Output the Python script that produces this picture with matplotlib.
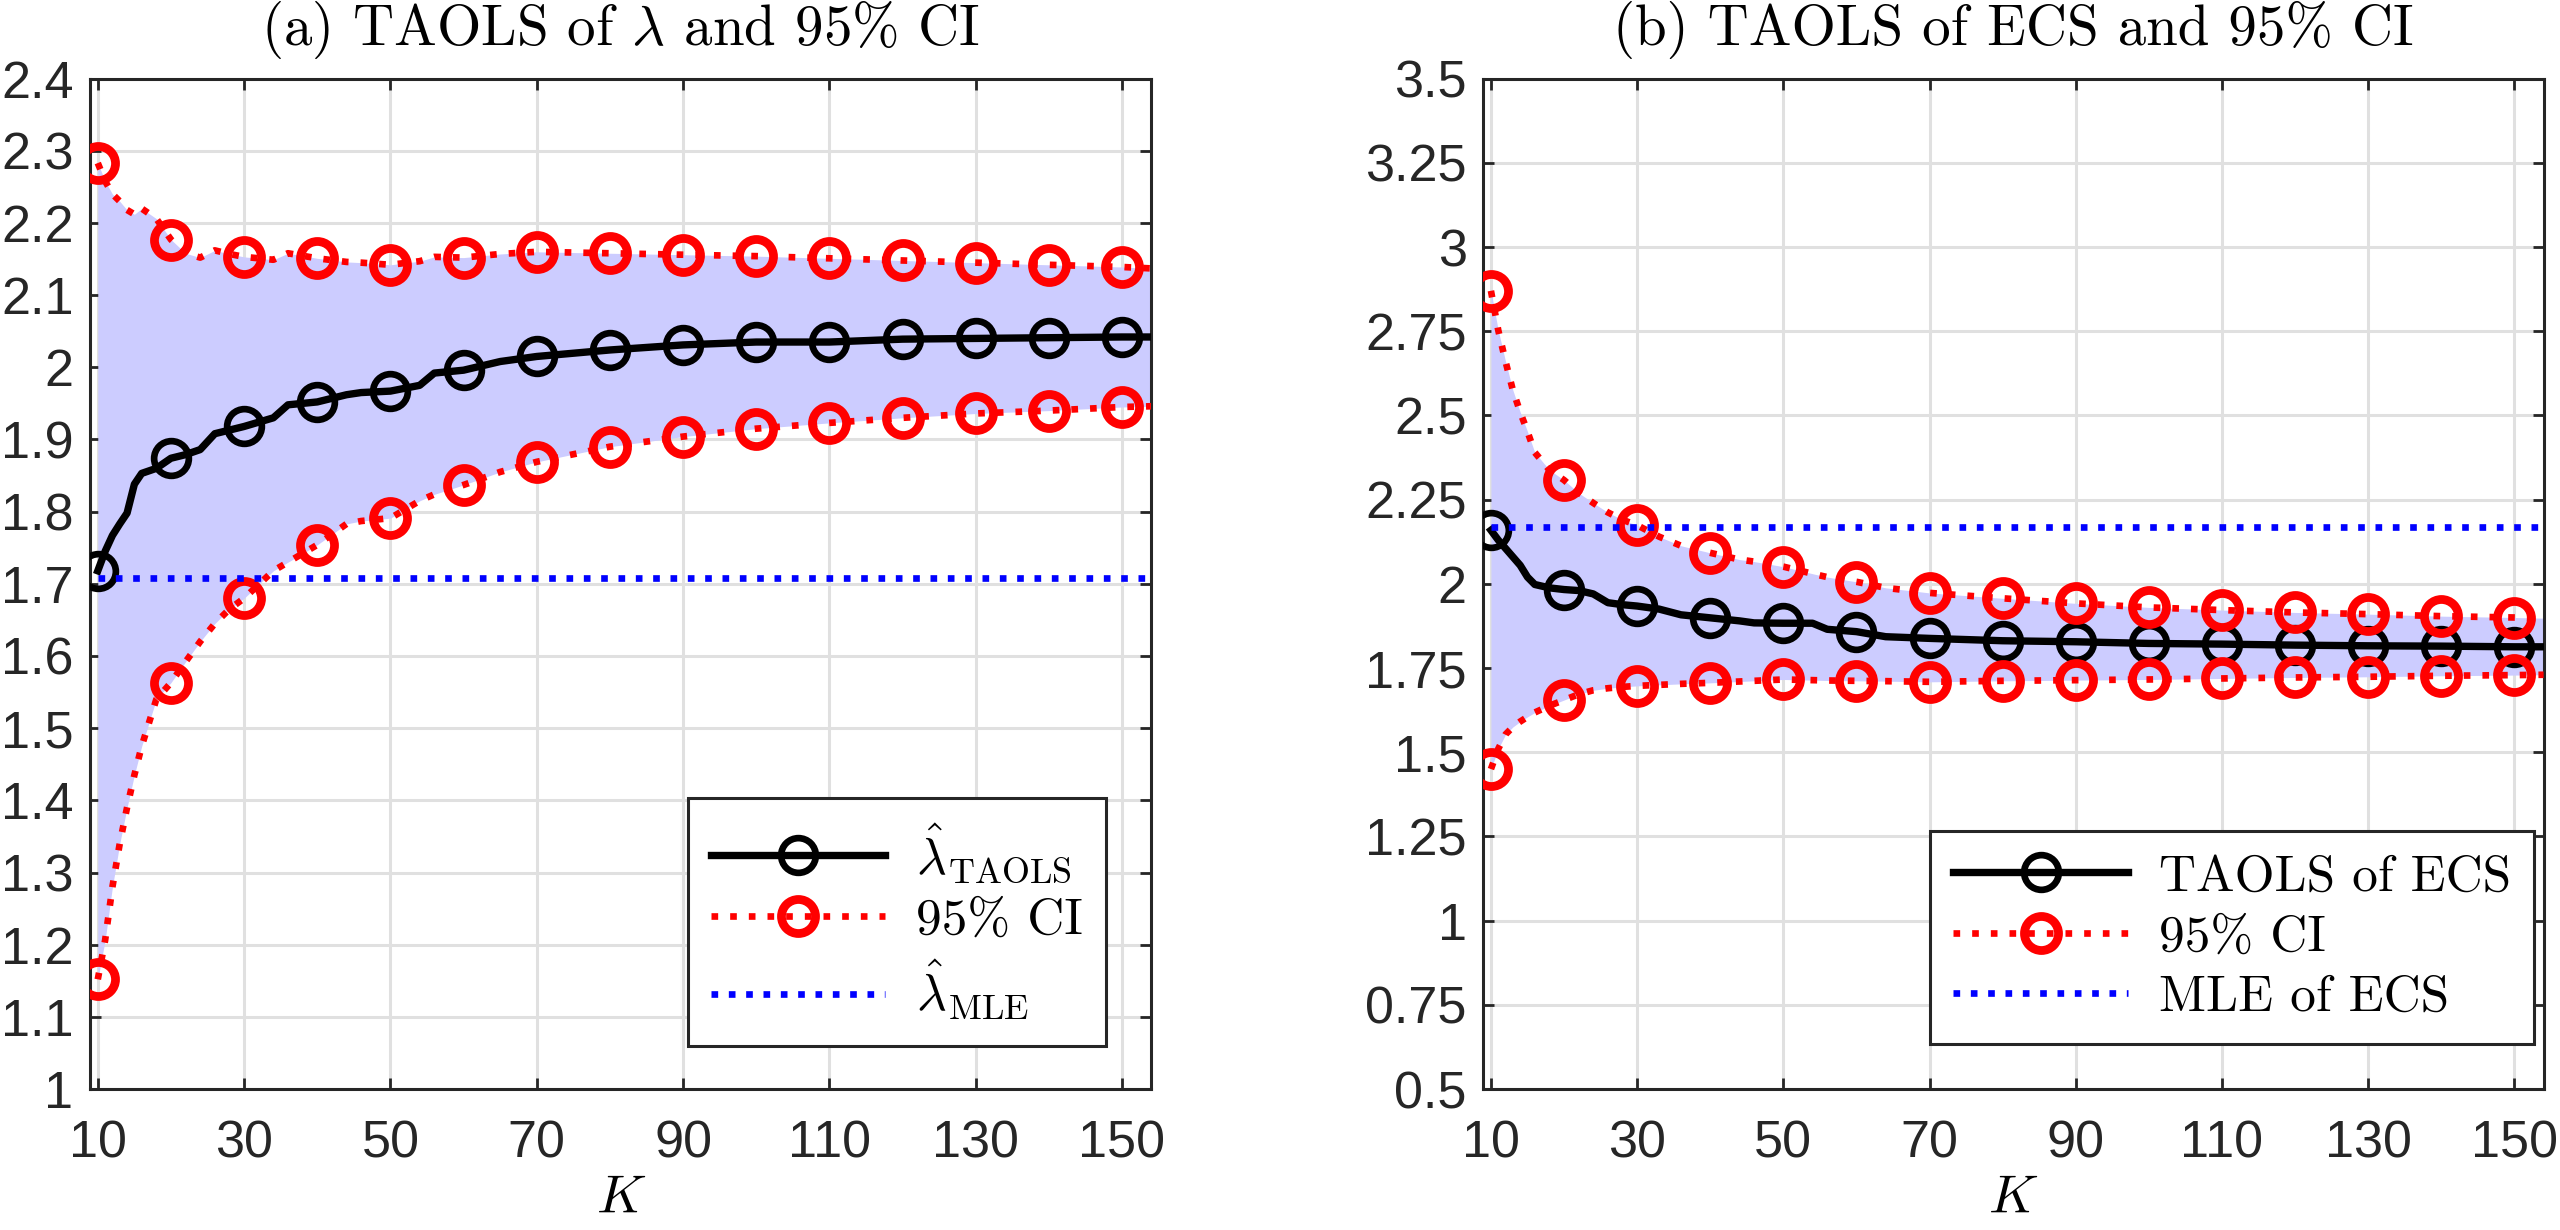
import numpy as np
import matplotlib
matplotlib.use("Agg")
import matplotlib.pyplot as plt
from matplotlib.ticker import FuncFormatter

plt.rcParams['mathtext.fontset'] = 'cm'
plt.rcParams['axes.unicode_minus'] = False

# ---- panel (a): TAOLS of lambda ----
k_a = [10, 11, 12, 13, 14, 15, 16, 18, 20, 22, 24, 26, 28, 30, 34, 36, 40, 44, 46, 50,
       54, 56, 60, 65, 70, 80, 90, 100, 110, 120, 130, 140, 150, 154]
lam_taols = [1.718, 1.745, 1.767, 1.783, 1.798, 1.838, 1.853, 1.860, 1.874, 1.879, 1.886,
             1.908, 1.913, 1.918, 1.930, 1.948, 1.952, 1.962, 1.965, 1.967, 1.975, 1.992,
             1.996, 2.008, 2.015, 2.024, 2.031, 2.035, 2.035, 2.039, 2.040, 2.041, 2.042, 2.042]
lam_hi = [2.283, 2.258, 2.240, 2.230, 2.218, 2.212, 2.220, 2.206, 2.177, 2.158, 2.152,
          2.162, 2.157, 2.153, 2.149, 2.158, 2.151, 2.146, 2.145, 2.142, 2.147, 2.153,
          2.152, 2.157, 2.160, 2.158, 2.156, 2.154, 2.151, 2.148, 2.145, 2.142, 2.139, 2.137]
lam_lo = [1.152, 1.206, 1.280, 1.340, 1.390, 1.435, 1.475, 1.540, 1.563, 1.592, 1.620,
          1.645, 1.665, 1.680, 1.718, 1.730, 1.754, 1.783, 1.787, 1.791, 1.815, 1.824,
          1.837, 1.855, 1.869, 1.890, 1.904, 1.915, 1.923, 1.930, 1.936, 1.940, 1.945, 1.946]
lam_mle = 1.708

# ---- panel (b): TAOLS of ECS ----
k_b = [10, 11, 12, 13, 14, 15, 16, 18, 20, 22, 24, 26, 28, 30, 33, 36, 40, 44, 46, 50,
       54, 56, 60, 64, 70, 80, 90, 100, 110, 120, 130, 140, 150, 154]
ecs_taols = [2.159, 2.130, 2.105, 2.080, 2.055, 2.020, 1.998, 1.988, 1.983, 1.980, 1.970,
             1.944, 1.938, 1.934, 1.925, 1.908, 1.899, 1.890, 1.884, 1.883, 1.883, 1.865,
             1.858, 1.843, 1.838, 1.831, 1.828, 1.823, 1.821, 1.818, 1.816, 1.815, 1.813, 1.813]
ecs_hi = [2.870, 2.753, 2.660, 2.575, 2.510, 2.452, 2.390, 2.338, 2.308, 2.270, 2.240,
          2.212, 2.190, 2.174, 2.140, 2.113, 2.092, 2.072, 2.066, 2.051, 2.030, 2.020,
          2.006, 1.988, 1.973, 1.957, 1.942, 1.930, 1.922, 1.915, 1.910, 1.904, 1.900, 1.898]
ecs_lo = [1.450, 1.510, 1.553, 1.575, 1.591, 1.605, 1.618, 1.638, 1.655, 1.672, 1.684,
          1.690, 1.694, 1.697, 1.700, 1.703, 1.706, 1.710, 1.712, 1.716, 1.714, 1.713,
          1.712, 1.711, 1.709, 1.712, 1.714, 1.716, 1.719, 1.722, 1.724, 1.727, 1.729, 1.730]
ecs_mle = 2.169

mle_k = [10, 154]
x_ticks = list(range(10, 151, 20))

TICK_FONT = 'Liberation Sans'
SERIF = 'cmr10'
FS = 37.5
DARK = '#262626'


def draw_panel(ax, k, mid, lo, hi, mle, title, labels, yticks, ylim, leg_anchor):
    marks = [i for i, v in enumerate(k) if v % 10 == 0]
    ax.fill_between(k, lo, hi, color='#ccccff', linewidth=0, zorder=1)
    ax.plot(k, mid, color='black', lw=5.3, marker='o', ms=25, mew=4.8, mfc='none',
            markevery=marks, label=labels[0], zorder=3)
    ax.plot(k, hi, color='red', lw=4.8, ls=(0, (1, 1.8)), dash_capstyle='butt',
            marker='o', ms=24.5, mew=6.3, mfc='none', markevery=marks, label=labels[1], zorder=4)
    ax.plot(k, lo, color='red', lw=4.8, ls=(0, (1, 1.8)), dash_capstyle='butt',
            marker='o', ms=24.5, mew=6.3, mfc='none', markevery=marks, zorder=4)
    ax.plot(mle_k, [mle, mle], color='blue', lw=4.8, ls=(0, (1, 1.6)),
            dash_capstyle='butt', label=labels[2], zorder=5)

    ax.set_xlim(8.95, 154)
    ax.set_ylim(*ylim)
    ax.set_xticks(x_ticks)
    ax.set_yticks(yticks)
    ax.yaxis.set_major_formatter(FuncFormatter(lambda v, p: '%g' % round(v, 2)))
    ax.set_axisbelow(True)
    ax.grid(True, color='#e0e0e0', lw=2.2)
    for s in ax.spines.values():
        s.set_color(DARK)
        s.set_linewidth(2.2)
    ax.tick_params(direction='in', top=True, right=True, length=8, width=2,
                   color=DARK, labelcolor=DARK, labelsize=FS, pad=12)
    ax.tick_params(axis='x', pad=22)
    for lab in ax.get_xticklabels() + ax.get_yticklabels():
        lab.set_fontfamily(TICK_FONT)
    ax.set_title(title, fontfamily=SERIF, fontsize=41, pad=24)
    ax.set_xlabel('$K$', fontsize=39, labelpad=2)

    leg = ax.legend(loc='lower right', bbox_to_anchor=leg_anchor, borderaxespad=0,
                    prop={'family': SERIF, 'size': 37}, handlelength=3.4,
                    handletextpad=0.6, labelspacing=0.28, borderpad=0.45,
                    fancybox=False, framealpha=1, edgecolor=DARK)
    leg.get_frame().set_linewidth(2.2)
    leg.set_zorder(10)


fig = plt.figure(figsize=(25.6, 12.3), dpi=100)
ax1 = fig.add_axes([0.0352, 0.1146, 0.4145, 0.8215])
ax2 = fig.add_axes([0.5794, 0.1146, 0.4142, 0.8215])

draw_panel(ax1, k_a, lam_taols, lam_lo, lam_hi, lam_mle,
           r'(a) TAOLS of $\lambda$ and 95% CI',
           [r'$\hat{\lambda}_{\mathrm{TAOLS}}$', '95% CI', r'$\hat{\lambda}_{\mathrm{MLE}}$'],
           np.round(np.arange(1.0, 2.41, 0.1), 2), (1.0, 2.4), (0.9576, 0.043))
draw_panel(ax2, k_b, ecs_taols, ecs_lo, ecs_hi, ecs_mle,
           '(b) TAOLS of ECS and 95% CI',
           ['TAOLS of ECS', '95% CI', 'MLE of ECS'],
           np.arange(0.5, 3.51, 0.25), (0.5, 3.5), (0.991, 0.0445))

fig.savefig('out.png', dpi=100)
